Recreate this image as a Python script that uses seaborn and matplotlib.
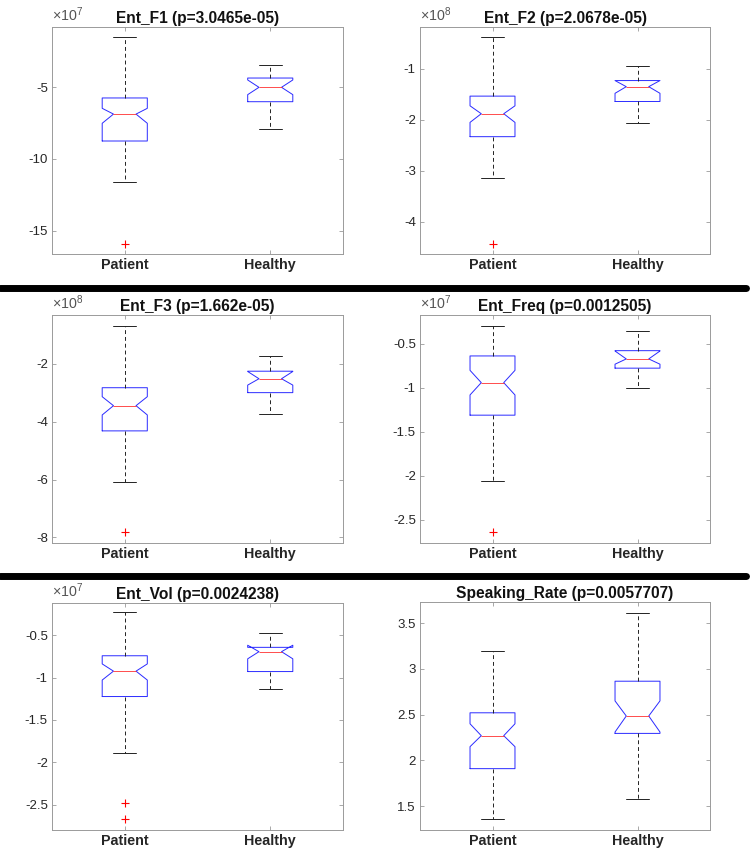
import matplotlib
matplotlib.use("Agg")
import matplotlib.pyplot as plt
import seaborn as sns
from matplotlib.lines import Line2D
from matplotlib.ticker import FuncFormatter

# panel titles and group names
titles = ["Ent_F1 (p=3.0465e-05)", "Ent_F2 (p=2.0678e-05)",
          "Ent_F3 (p=1.662e-05)", "Ent_Freq (p=0.0012505)",
          "Ent_Vol (p=0.0024238)", "Speaking_Rate (p=0.0057707)"]
groups = ["Patient", "Healthy"]
exponents = [7, 8, 8, 7, 7, 0]

# summary stats (in units of 10^exponent)
patient_med = [-6.88, -1.88, -3.45, -0.94, -0.925, 2.27]
patient_q1 = [-8.75, -2.33, -4.32, -1.31, -1.224, 1.91]
patient_q3 = [-5.76, -1.535, -2.83, -0.636, -0.744, 2.52]
patient_lo = [-11.62, -3.14, -6.10, -2.06, -1.89, 1.36]
patient_hi = [-1.55, -0.38, -0.70, -0.29, -0.233, 3.197]
patient_cilo = [-7.52, -2.05, -3.77, -1.08, -1.03, 2.15]
patient_cihi = [-6.48, -1.725, -3.14, -0.80, -0.84, 2.40]
patient_out = [[-15.88], [-4.43], [-7.82], [-2.64], [-2.48, -2.67], []]

healthy_med = [-5.02, -1.35, -2.52, -0.67, -0.696, 2.485]
healthy_q1 = [-6.02, -1.64, -3.00, -0.775, -0.93, 2.295]
healthy_q3 = [-4.375, -1.23, -2.26, -0.576, -0.645, 2.865]
healthy_lo = [-7.92, -2.06, -3.72, -1.00, -1.13, 1.58]
healthy_hi = [-3.49, -0.935, -1.73, -0.35, -0.476, 3.61]
healthy_cilo = [-5.53, -1.48, -2.74, -0.73, -0.78, 2.31]
healthy_cihi = [-4.51, -1.23, -2.27, -0.58, -0.62, 2.65]
healthy_out = [[], [], [], [], [], []]

# axis ranges and ticks (scaled units)
ylims = [(-16.6, -0.83), (-4.63, -0.18), (-8.19, -0.32),
         (-2.765, -0.17), (-2.795, -0.123), (1.24, 3.73)]
yticks = [[-15, -10, -5], [-4, -3, -2, -1], [-8, -6, -4, -2],
          [-2.5, -2, -1.5, -1, -0.5], [-2.5, -2, -1.5, -1, -0.5],
          [1.5, 2, 2.5, 3, 3.5]]

sns.set_theme(style="white")
plt.rcParams['font.family'] = ['Liberation Sans', 'DejaVu Sans']
plt.rcParams['mathtext.fontset'] = 'custom'
plt.rcParams['mathtext.rm'] = 'Liberation Sans'

W, H = 750, 856
fig = plt.figure(figsize=(W / 100, H / 100), dpi=100)

# axes boxes in pixels: left, right, top, bottom
boxes = [(52, 343, 27, 254), (420, 710, 27, 254),
         (52, 343, 315, 543), (420, 710, 315, 543),
         (52, 343, 603, 830), (420, 710, 602, 830)]

spine_col = '#9a9a9a'
for i in range(6):
    l, r, t, b = boxes[i]
    ax = fig.add_axes([l / W, 1 - b / H, (r - l) / W, (b - t) / H])
    s = 10.0 ** exponents[i]
    stats = [
        dict(med=patient_med[i] * s, q1=patient_q1[i] * s, q3=patient_q3[i] * s,
             whislo=patient_lo[i] * s, whishi=patient_hi[i] * s,
             cilo=patient_cilo[i] * s, cihi=patient_cihi[i] * s,
             fliers=[], label=groups[0]),
        dict(med=healthy_med[i] * s, q1=healthy_q1[i] * s, q3=healthy_q3[i] * s,
             whislo=healthy_lo[i] * s, whishi=healthy_hi[i] * s,
             cilo=healthy_cilo[i] * s, cihi=healthy_cihi[i] * s,
             fliers=[], label=groups[1]),
    ]
    ax.bxp(stats, positions=[1, 2], widths=0.31, shownotches=True, showfliers=False,
           boxprops=dict(color='#2a2aff', linewidth=0.7),
           medianprops=dict(color='#ff3030', linewidth=0.6),
           whiskerprops=dict(color='#222222', linewidth=0.7, linestyle=(0, (4, 3))),
           capprops=dict(color='#222222', linewidth=0.7))
    # outliers as red plus signs
    for pos, vals in [(1, patient_out[i]), (2, healthy_out[i])]:
        if vals:
            ax.plot([pos] * len(vals), [v * s for v in vals], linestyle='none',
                    marker='+', markersize=6, markeredgewidth=0.8, color='#ff0000')
    ax.set_xlim(0.5, 2.5)
    ax.set_ylim(ylims[i][0] * s, ylims[i][1] * s)
    ax.set_yticks([v * s for v in yticks[i]])
    ax.yaxis.set_major_formatter(FuncFormatter(lambda v, p, s=s: f"{v / s:g}"))
    ax.set_xticks([1, 2])
    ax.set_xticklabels(groups, fontweight='bold', fontsize=10.3)
    ax.tick_params(axis='y', labelsize=9.5)
    ax.tick_params(direction='in', length=3, width=0.6, color=spine_col,
                   top=True, right=True, bottom=True, left=True,
                   labelcolor='#262626', pad=3)
    for sp in ax.spines.values():
        sp.set_color(spine_col)
        sp.set_linewidth(0.7)
    ax.set_title(titles[i], fontweight='bold', fontsize=11.2, pad=3, color='#111111')
    if exponents[i] != 0:
        ax.text(0.0, 1.012, r"$\mathregular{\times10^{%d}}$" % exponents[i],
                transform=ax.transAxes, fontsize=10.3, color='#555555',
                ha='left', va='bottom')

# thick separators between rows
for yy in [288, 576]:
    fig.add_artist(Line2D([0, 0.995], [1 - yy / H, 1 - yy / H], color='black',
                          linewidth=5, transform=fig.transFigure))

fig.savefig("out.png", dpi=100)
